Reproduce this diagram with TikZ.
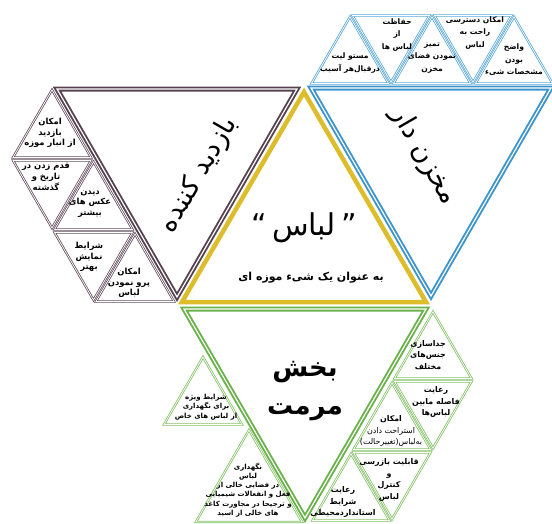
\documentclass[tikz,border=0pt]{standalone}
\usepackage{fontspec}
\setmainfont{DejaVu Sans}
\newfontfamily\fafont[Script=Arabic]{DejaVu Sans}
\TeXXeTstate=1
\newcommand{\fa}[1]{{\fafont\beginR #1\endR}}
\definecolor{bblue}{HTML}{3B94CC}
\definecolor{sblue}{HTML}{5AA8D8}
\definecolor{yel}{HTML}{DDBD2C}
\definecolor{grn}{HTML}{69B24A}
\definecolor{sgrn}{HTML}{84C266}
\definecolor{pur}{HTML}{574250}
\definecolor{spur}{HTML}{665160}
\newcommand{\UT}[3]{\draw[#1,shift={(#2)}] (270:#3) -- (30:#3) -- (150:#3) -- cycle;}
\newcommand{\DT}[3]{\draw[#1,shift={(#2)}] (90:#3) -- (210:#3) -- (330:#3) -- cycle;}
\tikzset{
  big/.style={line width=1.9pt, double=white, double distance=1.2pt},
  bigb/.style={big, draw=bblue},
  bigp/.style={big, draw=pur},
  bigg/.style={big, draw=grn},
  bigy/.style={draw=yel, line width=4.5pt},
  small/.style={line width=0.8pt, double=white, double distance=0.7pt},
  sb/.style={small, draw=sblue},
  sp/.style={small, draw=spur},
  sg/.style={small, draw=sgrn},
  lbl/.style={align=center, inner sep=0pt, font=\fafont\bfseries\fontsize{7.6}{12.5}\selectfont},
  lblL/.style={lbl, font=\fafont\bfseries\fontsize{8.4}{10.6}\selectfont},
  lblR/.style={lbl, font=\fafont\bfseries\fontsize{7.9}{11.6}\selectfont},
  lblG/.style={lbl, font=\fafont\bfseries\fontsize{7}{9.2}\selectfont},
}
\begin{document}
\begin{tikzpicture}[x=1pt,y=-1pt]
\useasboundingbox (0,0) rectangle (552,523);
% big triangles
\draw[bigp] (57,89) -- (297,89) -- (177,297) -- cycle;
\draw[bigb] (311,88) -- (551,88) -- (431,296) -- cycle;
\draw[bigg] (184,309) -- (426,309) -- (305,518) -- cycle;
\draw[bigy] (304,92) -- (426,302) -- (182,302) -- cycle;
% top blue row
\UT{sb}{350,61.3}{44.5}
\DT{sb}{391,37.7}{44.5}
\UT{sb}{432,61.3}{44.5}
\DT{sb}{473,37.7}{44.5}
\UT{sb}{514,61.3}{44.5}
% left purple column
\UT{sp}{52,134.9}{45}
\DT{sp}{52,183}{45}
\UT{sp}{93.5,206.9}{45}
\DT{sp}{93.5,255}{45}
\UT{sp}{135,278.9}{45}
% right green column
\UT{sg}{433,356.3}{44.5}
\DT{sg}{433,403.7}{44.5}
\UT{sg}{392,427.3}{44.5}
\DT{sg}{392,474.7}{44.5}
\UT{sg}{351,498.3}{44.5}
% left green
\UT{sg}{203,402}{45}
\UT{sg}{249,491.3}{61.3}
% main labels
\node[rotate=60, font=\fafont\fontsize{27}{27}\selectfont, inner sep=0pt] (visitor) at (199,175) {\fa{بازدید کننده}};
\node[rotate=-60, font=\fafont\fontsize{27}{27}\selectfont, inner sep=0pt] (store) at (424,156) {\fa{مخزن دار}};
\node[font=\fafont\fontsize{30}{30}\selectfont, inner sep=0pt] (cloth) at (304,228) {“\,\fa{لباس}\,”};
\node[font=\fafont\bfseries\fontsize{11}{11}\selectfont, inner sep=0pt] (museum) at (311,278) {\fa{به عنوان یک شیء موزه ای}};
\node[align=center, font=\fafont\bfseries\fontsize{26}{38}\selectfont, inner sep=0pt] (restore) at (305,391) {\fa{بخش}\\\fa{مرمت}};
% top texts
\node[lbl] (t1) at (350,63) {\fa{مستو لیت}\\\fa{درقبال‌هر آسیب}};
\node[lbl] (t2) at (397,35) {\fa{حفاظت}\\\fa{از}\\\fa{لباس ها}};
\node[lbl] (t3) at (432,58) {\fa{تمیز}\\\fa{نمودن فضای}\\\fa{مخزن}};
\node[lbl] (t4) at (475,33) {\fa{امکان دسترسی}\\\fa{راحت به}\\\fa{لباس}};
\node[lbl] (t5) at (514,60) {\fa{واضح}\\\fa{بودن}\\\fa{مشخصات شیء}};
% left texts
\node[lblL] (l1) at (50,133) {\fa{امکان}\\\fa{بازدید}\\\fa{از انبار موزه}};
\node[lblL] (l2) at (46,177) {\fa{قدم زدن در}\\\fa{تاریخ و}\\\fa{گذشته}};
\node[lblL] (l3) at (90,204) {\fa{دیدن}\\\fa{عکس های}\\\fa{بیشتر}};
\node[lblL] (l4) at (89,257) {\fa{شرایط}\\\fa{نمایش}\\\fa{بهتر}};
\node[lblL] (l5) at (129,283) {\fa{امکان}\\\fa{پرو نمودن}\\\fa{لباس}};
% right green texts
\node[lblR] (r1) at (428,355) {\fa{جداسازی}\\\fa{جنس‌های}\\\fa{مختلف}};
\node[lblR] (r2) at (436,402) {\fa{رعایت}\\\fa{فاصله مابین}\\\fa{لباس‌ها}};
\node[lblR] (r3) at (391,431) {\fa{امکان}\\{\mdseries\fa{استراحت دادن}}\\{\mdseries\fa{به‌لباس(تغییرحالت)}}};
\node[lblR] (r4) at (389,480) {\fa{قابلیت بازرسی}\\\fa{و}\\\fa{کنترل}\\\fa{لباس}};
\node[lblR] (r5) at (343,502) {\fa{رعایت}\\\fa{شرایط}\\\fa{استانداردمحیطی}};
% left green texts
\node[lblG] (g1) at (206,407) {\fa{شرایط ویژه}\\\fa{برای نگهداری}\\\fa{از لباس های خاص}};
\node[lblG] (g2) at (248,490) {\fa{نگهداری}\\\fa{لباس}\\\fa{در فضایی خالی از}\\\fa{فعل و انفعالات شیمیایی}\\\fa{و ترجیحا در مجاورت کاغذ}\\\fa{های خالی از اسید}};
\end{tikzpicture}
\end{document}
